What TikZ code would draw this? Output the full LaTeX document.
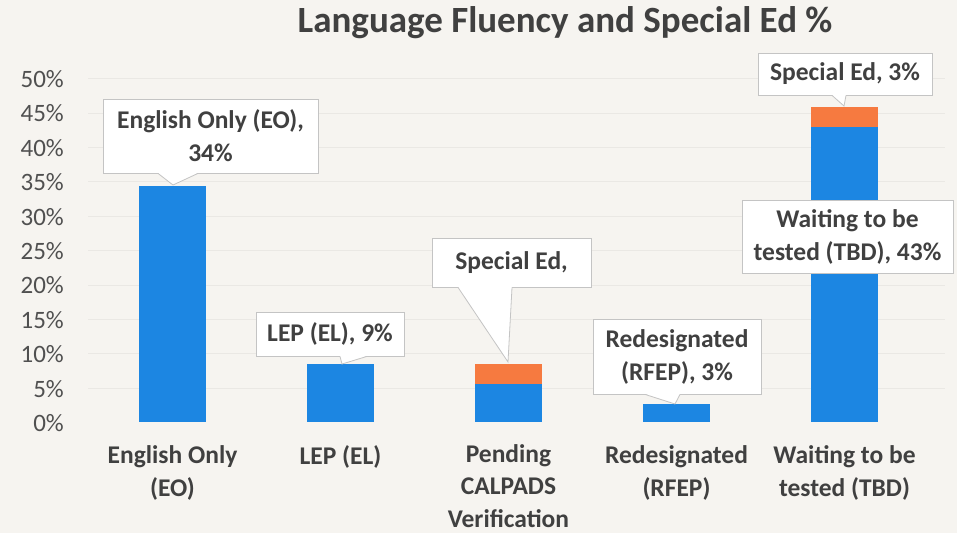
\documentclass[tikz,border=0pt]{standalone}
\usepackage{fontspec}
\setmainfont{Carlito}
\usetikzlibrary{calc}
\definecolor{bg}{RGB}{246,244,240}
\definecolor{grid}{RGB}{234,232,228}
\definecolor{barblue}{RGB}{28,134,226}
\definecolor{barorange}{RGB}{246,122,64}
\definecolor{txt}{RGB}{64,64,64}
\definecolor{axtxt}{RGB}{80,80,80}
\definecolor{cline}{RGB}{196,196,196}
\tikzset{
  cbox/.style={draw=cline, line width=0.8pt, fill=white, inner sep=0pt, align=center,
    font=\fontsize{25.5}{33}\selectfont\bfseries, text=txt},
  wedgeline/.style={draw=cline, line width=0.8pt},
  catlabel/.style={align=center, inner sep=0pt, font=\fontsize{25.5}{32.5}\selectfont\bfseries, text=txt},
  axlabel/.style={anchor=east, inner sep=0pt, font=\fontsize{25}{30}\selectfont, text=axtxt},
  bluebar/.style={fill=barblue, draw=none},
  orangebar/.style={fill=barorange, draw=none}
}
\begin{document}
\begin{tikzpicture}[x=1pt,y=-1pt]
\fill[bg] (0,0) rectangle (957,533);
\useasboundingbox (0,0) rectangle (957,533);
% title
\node[font=\fontsize{37}{40}\selectfont\bfseries, text=txt, inner sep=0pt] (title) at (565,23) {Language Fluency and Special Ed \%};
% gridlines and axis labels
\foreach \k in {1,...,10} {
  \draw[grid, line width=0.8pt] (88,{422.5-34.4*\k}) -- (945,{422.5-34.4*\k});
}
\foreach \k/\lab in {0/0,1/5,2/10,3/15,4/20,5/25,6/30,7/35,8/40,9/45,10/50} {
  \node[axlabel] (ax\k) at (64,{423-34.4*\k}) {\lab\%};
}
% bars
\path[bluebar] (139,186) rectangle (206,422) node[midway] (bar1) {};
\path[bluebar] (307,364) rectangle (374,422) node[midway] (bar2) {};
\path[bluebar] (475,384) rectangle (542,422) node[midway] (bar3) {};
\path[orangebar] (475,364) rectangle (542,384) node[midway] (bar3s) {};
\path[bluebar] (643,404) rectangle (710,422) node[midway] (bar4) {};
\path[bluebar] (811,127) rectangle (878,422) node[midway] (bar5) {};
\path[orangebar] (811,107) rectangle (878,127) node[midway] (bar5s) {};
% tips
\coordinate (tip1) at (173,185);
\coordinate (tip2) at (342,364);
\coordinate (tip3) at (508,362);
\coordinate (tip4) at (675,404);
\coordinate (tip5) at (844,106);
% category labels
\node[catlabel] (c1) at (172.5,473) {English Only\\(EO)};
\node[catlabel] (c2) at (340.5,457) {LEP (EL)};
\node[catlabel] (c3) at (508.5,486) {Pending\\CALPADS\\Verification};
\node[catlabel] (c4) at (676.5,473) {Redesignated\\(RFEP)};
\node[catlabel] (c5) at (844.5,473) {Waiting to be\\tested (TBD)};
% callouts
\node[cbox, minimum width=215pt, minimum height=74pt] (k1) at (210.5,136) {English Only (EO),\\34\%};
\node[cbox, minimum width=148pt, minimum height=44pt] (k2) at (330,334) {LEP (EL), 9\%};
\node[cbox, minimum width=159pt, minimum height=49pt] (k3) at (511.5,262.5) {Special Ed,};
\node[cbox, minimum width=168pt, minimum height=75pt] (k4) at (677,356.5) {Redesignated\\(RFEP), 3\%};
\node[cbox, minimum width=174pt, minimum height=42pt] (k5) at (845,74) {Special Ed, 3\%};
\node[cbox, minimum width=211pt, minimum height=73pt] (k6) at (847.5,236.5) {Waiting to be\\tested (TBD), 43\%};
% wedges
\fill[white] ($(k1.south -| 158,0)+(0,-0.6)$) -- (tip1) -- ($(k1.south -| 198,0)+(0,-0.6)$) -- cycle;
\draw[wedgeline] (k1.south -| 158,0) -- (tip1) -- (k1.south -| 198,0);
\fill[white] ($(k2.south -| 340,0)+(0,-0.6)$) -- (tip2) -- ($(k2.south -| 367,0)+(0,-0.6)$) -- cycle;
\draw[wedgeline] (k2.south -| 340,0) -- (tip2) -- (k2.south -| 367,0);
\fill[white] ($(k3.south -| 458,0)+(0,-0.6)$) -- (tip3) -- ($(k3.south -| 512,0)+(0,-0.6)$) -- cycle;
\draw[wedgeline] (k3.south -| 458,0) -- (tip3) -- (k3.south -| 512,0);
\fill[white] ($(k4.south -| 645,0)+(0,-0.6)$) -- (tip4) -- ($(k4.south -| 680,0)+(0,-0.6)$) -- cycle;
\draw[wedgeline] (k4.south -| 645,0) -- (tip4) -- (k4.south -| 680,0);
\fill[white] ($(k5.south -| 832,0)+(0,-0.6)$) -- (tip5) -- ($(k5.south -| 846,0)+(0,-0.6)$) -- cycle;
\draw[wedgeline] (k5.south -| 832,0) -- (tip5) -- (k5.south -| 846,0);
\end{tikzpicture}
\end{document}
